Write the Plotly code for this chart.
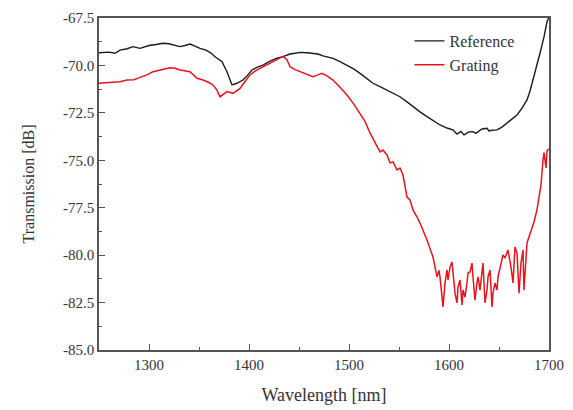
import plotly.graph_objects as go

ref_x = [1250, 1260, 1266, 1271, 1278, 1284, 1291, 1296, 1300, 1307, 1314, 1320, 1324, 1331, 1336, 1341,
         1346, 1351, 1357, 1362, 1366, 1373, 1378, 1383, 1388, 1394, 1398, 1403, 1408, 1414, 1420, 1428,
         1434, 1441, 1446, 1451, 1458, 1464, 1469, 1474, 1479, 1484, 1491, 1498, 1505, 1511, 1518, 1524,
         1531, 1538, 1545, 1551, 1558, 1564, 1571, 1578, 1585, 1591, 1598, 1604, 1608, 1612, 1615, 1620,
         1624, 1627, 1631, 1633, 1638, 1640, 1643, 1648, 1653, 1658, 1663, 1668, 1673, 1678, 1681, 1684,
         1688, 1691, 1695, 1698, 1700]
ref_y = [-69.33, -69.30, -69.36, -69.19, -69.12, -69.01, -69.10, -69.02, -68.95, -68.90, -68.83, -68.86,
         -68.92, -69.01, -68.95, -68.87, -68.98, -69.10, -69.19, -69.35, -69.54, -69.80, -70.33, -71.03,
         -70.94, -70.77, -70.55, -70.24, -70.10, -69.98, -69.80, -69.62, -69.54, -69.40, -69.36, -69.31,
         -69.33, -69.36, -69.40, -69.50, -69.55, -69.63, -69.80, -69.98, -70.20, -70.42, -70.70, -70.94,
         -71.12, -71.30, -71.48, -71.65, -71.92, -72.18, -72.45, -72.70, -72.95, -73.14, -73.30, -73.40,
         -73.62, -73.48, -73.66, -73.50, -73.49, -73.58, -73.42, -73.35, -73.31, -73.45, -73.42, -73.40,
         -73.25, -73.05, -72.85, -72.61, -72.25, -71.82, -71.35, -70.77, -70.05, -69.36, -68.50, -67.70,
         -67.45]

grt_x = [1250, 1260, 1271, 1278, 1285, 1291, 1298, 1304, 1312, 1321, 1326, 1331, 1341, 1348, 1354, 1360,
         1364, 1368, 1371, 1375, 1378, 1384, 1391, 1396, 1401, 1406, 1411, 1418, 1424, 1431, 1434, 1438,
         1441, 1446, 1451, 1458, 1464, 1469, 1473, 1478, 1484, 1491, 1498, 1505, 1511, 1516, 1521, 1528,
         1531, 1534, 1538, 1541, 1544, 1548, 1551, 1554, 1558, 1561, 1564, 1568, 1571, 1578, 1584, 1588,
         1590, 1591, 1593, 1594, 1596, 1598, 1599, 1601, 1603, 1604, 1606, 1608, 1609, 1611, 1613, 1614,
         1616, 1618, 1619, 1621, 1623, 1624, 1626, 1628, 1629, 1631, 1633, 1634, 1636, 1638, 1639, 1641,
         1643, 1644, 1646, 1648, 1649, 1651, 1653, 1654, 1656, 1658, 1659, 1662, 1664, 1666, 1668, 1670,
         1672, 1674, 1675, 1678, 1680, 1683, 1685, 1688, 1690, 1692, 1694, 1695, 1697, 1698, 1700]
grt_y = [-70.94, -70.90, -70.86, -70.77, -70.75, -70.63, -70.50, -70.33, -70.22, -70.12, -70.15, -70.24,
         -70.33, -70.68, -70.77, -70.90, -71.03, -71.30, -71.65, -71.50, -71.38, -71.47, -71.21, -70.85,
         -70.50, -70.30, -70.15, -69.95, -69.80, -69.60, -69.52, -69.70, -70.07, -70.22, -70.33, -70.45,
         -70.59, -70.50, -70.42, -70.55, -70.77, -71.15, -71.56, -72.05, -72.53, -72.95, -73.56, -74.30,
         -74.56, -74.46, -74.72, -75.14, -75.09, -75.51, -75.41, -75.78, -76.94, -77.09, -77.62, -77.99,
         -78.31, -79.20, -80.10, -81.15, -80.80, -81.15, -82.00, -82.73, -81.47, -80.78, -81.31, -80.63,
         -80.36, -80.94, -82.00, -82.52, -81.68, -81.31, -82.63, -81.84, -82.21, -81.47, -80.94, -80.89,
         -80.42, -81.15, -82.37, -81.47, -81.15, -81.84, -80.63, -80.42, -82.52, -81.84, -81.15, -80.78,
         -82.73, -82.00, -81.47, -81.84, -81.15, -80.63, -80.26, -79.99, -80.15, -79.89, -79.73, -80.63,
         -81.47, -79.57, -79.89, -82.00, -80.42, -79.73, -81.84, -79.36, -79.04, -78.52, -78.25, -77.60,
         -77.00, -76.30, -75.00, -74.60, -75.40, -74.50, -74.40]

y_ticks = [-85.0, -82.5, -80.0, -77.5, -75.0, -72.5, -70.0, -67.5]
y_tick_labels = ["-85.0", "-82.5", "-80.0", "-77.5", "-75.0", "-72.5", "-70.0", "-67.5"]
x_ticks = [1300, 1400, 1500, 1600, 1700]
x_tick_labels = ["1300", "1400", "1500", "1600", "1700"]

font = "Liberation Serif, Times New Roman, serif"
txt = "#333333"
axc = "#555555"

fig = go.Figure()
fig.add_trace(go.Scatter(x=ref_x, y=ref_y, mode="lines", name="Reference",
                         line=dict(color="#1a1a1a", width=1.4)))
fig.add_trace(go.Scatter(x=grt_x, y=grt_y, mode="lines", name="Grating",
                         line=dict(color="#e8141c", width=1.5)))

axis_common = dict(showgrid=False, zeroline=False, showline=True, linecolor=axc, linewidth=1.5,
                   mirror=True, ticks="inside", ticklen=6, tickwidth=1.2, tickcolor=axc,
                   automargin=False,
                   tickfont=dict(family=font, size=15, color=txt))

fig.update_layout(
    width=573, height=410,
    margin=dict(l=99, r=24, t=18, b=60),
    paper_bgcolor="white", plot_bgcolor="white",
    font=dict(family=font, color=txt),
    xaxis=dict(range=[1250, 1700], tickvals=x_ticks, ticktext=x_tick_labels,
               minor=dict(ticks="inside", ticklen=3, dtick=50, tickcolor=axc, tickwidth=1.2),
               title=dict(text="Wavelength [nm]", font=dict(family=font, size=18, color=txt), standoff=17),
               **axis_common),
    yaxis=dict(range=[-85, -67.5], tickvals=y_ticks, ticktext=y_tick_labels,
               minor=dict(ticks="inside", ticklen=3, dtick=1.25, tickcolor=axc, tickwidth=1.2),
               title=dict(text="Transmission [dB]", font=dict(family=font, size=16, color=txt), standoff=24),
               **axis_common),
    legend=dict(x=0.69, y=0.982, xanchor="left", yanchor="top", bgcolor="rgba(0,0,0,0)",
                font=dict(family=font, size=16, color=txt), tracegroupgap=0, itemwidth=30),
    showlegend=True,
)

fig.write_html("out.html", config={"displayModeBar": False})

with open("out.html", "r", encoding="utf-8") as f:
    html = f.read()
html = html.replace("<head>", "<head><style>html,body{margin:0;padding:0;}</style>", 1)
with open("out.html", "w", encoding="utf-8") as f:
    f.write(html)
